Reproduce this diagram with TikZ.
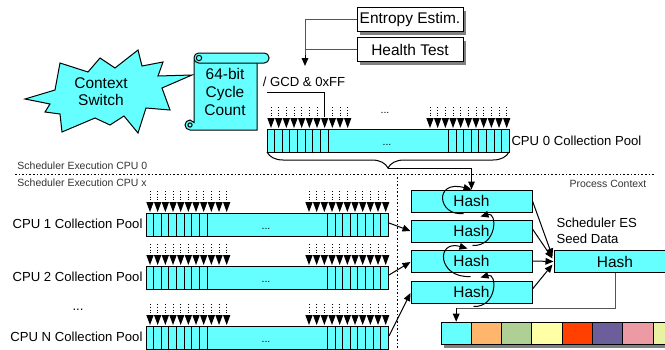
\documentclass[tikz,border=0pt]{standalone}
\usepackage{fontspec}
\setmainfont{Liberation Sans}
\usetikzlibrary{arrows.meta,calc,decorations.pathreplacing,shadows}
\definecolor{cyanF}{HTML}{66FFFF}
\definecolor{lgray}{HTML}{555555}
\definecolor{tgray}{HTML}{333333}
\definecolor{cA}{HTML}{FFB66C}
\definecolor{cB}{HTML}{AFD095}
\definecolor{cC}{HTML}{FFFFA6}
\definecolor{cD}{HTML}{FF4000}
\definecolor{cE}{HTML}{6B5E9B}
\definecolor{cF}{HTML}{EC9BA4}
\definecolor{cG}{HTML}{E8F2A1}
\newcommand\mypool[3]{%
  \node[poolbar, anchor=north west] (#1) at (#2,#3) {};
  \foreach \i in {1,...,8} {\draw[cellline] ({#2+7.63*\i},#3) -- ++(0,23);}
  \foreach \i in {0,...,7} {\draw[cellline] ({#2+181.3+7.63*\i},#3) -- ++(0,23);}
  \foreach \i in {0,...,10} {
    \fill ({#2+4+7.67*\i-3.7},{#3-11}) -- ++(7.4,0) -- ({#2+4+7.67*\i},{#3-1}) -- cycle;
    \draw[dotline] ({#2+4+7.67*\i},{#3-22}) -- ({#2+4+7.67*\i},{#3-11});
    \fill ({#2+163+7.67*\i-3.7},{#3-11}) -- ++(7.4,0) -- ({#2+163+7.67*\i},{#3-1}) -- cycle;
    \draw[dotline] ({#2+163+7.67*\i},{#3-22}) -- ({#2+163+7.67*\i},{#3-11});
  }
  \node[smallf, anchor=base] (#1dots) at ({#2+120},{#3+16}) {...};
}
\begin{document}
\begin{tikzpicture}[x=0.75pt,y=-0.75pt, line width=0.75pt,
  bigf/.style={font=\fontsize{11.6}{13.7}\selectfont},
  midf/.style={font=\fontsize{9.85}{12}\selectfont},
  smallf/.style={font=\fontsize{7.85}{9.4}\selectfont},
  poolbar/.style={draw, fill=cyanF, minimum width=181.5pt, minimum height=17.25pt, inner sep=0pt},
  cellline/.style={line width=0.6pt},
  dotline/.style={line width=0.6pt, dash pattern=on 0.7pt off 1.4pt},
  hashbox/.style={draw, fill=cyanF, bigf, minimum width=90.75pt, minimum height=16.5pt, inner sep=0pt},
  shbox/.style={draw, fill=white, bigf, minimum width=79.5pt, minimum height=18pt, inner sep=0pt,
     drop shadow={shadow xshift=2.25pt, shadow yshift=-2.25pt, fill=black!50, opacity=1}},
  cell/.style={draw, minimum width=22.7pt, minimum height=17pt, inner sep=0pt},
  arr/.style={-{Triangle[length=6pt,width=5pt]}},
  sep/.style={line width=0.6pt, dash pattern=on 1.2pt off 1.5pt}
]
\useasboundingbox (0,0) rectangle (665,350);
\clip (0,0) rectangle (665,350);

% starburst
\draw[fill=cyanF, line join=miter] (25,99) -- (55,90) -- (60,63) -- (88,72) -- (100,58) -- (115,68)
  -- (138,50) -- (142,66) -- (163,62) -- (158,76) -- (192,75) -- (162,88) -- (170,110) -- (146,108)
  -- (138,133) -- (124,116) -- (110,125) -- (95,118) -- (62,132) -- (60,114) -- (45,112) -- (50,104) -- cycle;
\node[bigf, align=center, font=\fontsize{11.6}{12.75}\selectfont] (cs) at (101,92) {Context\\Switch};

% scroll
\draw[fill=cyanF] (194,60) -- (257,60) -- (257,130) -- (190,130)
  arc[start angle=270, end angle=90, radius=3.75pt] -- (194,122.5) -- cycle;
\draw[fill=cyanF, rounded corners=3.5pt] (194,53) rectangle (269,63);
\draw (199,58) circle[radius=2pt];
\draw (190,125) circle[radius=1.6pt];
\node[bigf, align=center] (cc) at (225,92) {64-bit\\Cycle\\Count};

% entropy / health
\node[shbox] (ent) at (410,19.5) {Entropy Estim.};
\node[shbox] (hlt) at (410,49.5) {Health Test};
\coordinate (gtip) at (305,66);
\draw[lgray] (ent.west) -| (305,60);
\draw[lgray] (hlt.west) -- (hlt.west -| gtip);
\draw[arr] (305,55) -- (gtip);

\node[midf] (gcd) at (304,82) {/ GCD \& 0xFF};
\coordinate (gcdL) at (267,92);
\coordinate (gcdA) at (324.7,117);
\draw (gcdL) -| (gcdA);

% CPU 0 pool
\mypool{p0}{267}{129}
\node[smallf, anchor=base] (p0top) at (385,113) {...};
\node[midf, anchor=west, inner sep=0pt] (p0lab) at (511,141) {CPU 0 Collection Pool};
\draw[decorate, decoration={brace, mirror, amplitude=12pt}] (267,152) -- (509,152);
\coordinate (bt) at (388,168);

% separators
\node[smallf, text=tgray, anchor=west, inner sep=0pt] (s0) at (17,165.5) {Scheduler Execution CPU 0};
\draw[sep] (15,174) -- (655,174);
\node[smallf, text=tgray, anchor=west, inner sep=0pt] (sx) at (17,182.5) {Scheduler Execution CPU x};
\draw[sep] (397,177) -- (397,350);
\node[smallf, text=tgray] (pc) at (608,184) {Process Context};

% CPU x pools
\mypool{p1}{146}{213}
\mypool{p2}{146}{266}
\mypool{p3}{146}{326}
\node[midf, anchor=east, inner sep=0pt] (l1) at (143,224) {CPU 1 Collection Pool};
\node[midf, anchor=east, inner sep=0pt] (l2) at (143,277) {CPU 2 Collection Pool};
\node[midf] (ldots) at (78,310) {...};
\node[midf, anchor=east, inner sep=0pt] (l3) at (143,337) {CPU N Collection Pool};

% hashes
\node[hashbox] (h1) at (471.5,201) {Hash};
\node[hashbox] (h2) at (471.5,231) {Hash};
\node[hashbox] (h3) at (471.5,261) {Hash};
\node[hashbox] (h4) at (471.5,292) {Hash};
\node[hashbox, minimum width=91.5pt] (bh) at (615,261.5) {Hash};
\node[midf, anchor=west, align=left, inner sep=0pt] (sed) at (556,231) {Scheduler ES\\Seed Data};

\draw[arr] (bt) -| (h1.north);
\draw[arr] ($(h1.south)+(-8,1)$) .. controls ($(h1.south)+(-34,4)$) and ($(h1.north)+(-38,-10)$) .. (h1.north);
\draw[arr] ($(h2.south)+(1,3)$) .. controls ($(h2.south)+(26,4)$) and ($(h2.north)+(26,-8)$) .. ($(h2.north)+(9,-3)$);
\draw[arr] ($(h3.south)+(-1,4)$) .. controls ($(h3.south)+(-34,6)$) and ($(h3.north)+(-36,-10)$) .. ($(h3.north)+(-4,-1)$);
\draw[arr] ($(h4.south)+(2,3)$) .. controls ($(h4.south)+(26,4)$) and ($(h4.north)+(26,-8)$) .. ($(h4.north)+(9,-3)$);

\draw[arr] ($(p1.east)+(0,-2)$) -- (h2.west);
\draw[arr] ($(p2.east)+(0,-3)$) -- ($(h3.west)+(0,1)$);
\draw[arr] ($(p3.east)+(0,-2)$) -- ($(h4.west)+(0,1)$);

\draw[arr] (h1.east) -- ($(bh.west)+(-1,-5)$);
\draw[arr] ($(h2.east)+(0,-2)$) -- ($(bh.west)+(-1,-3)$);
\draw[arr] (h3.east) -- (bh.west);
\draw[arr] ($(h4.east)+(0,-3)$) -- ($(bh.west)+(-1,3)$);

% colour bar
\fill[black!50] (444,325) rectangle (690,348);
\node[cell, fill=cyanF] (c1) at (456.2,333.5) {};
\node[cell, fill=cA] (c2) at (486.5,333.5) {};
\node[cell, fill=cB] (c3) at (516.8,333.5) {};
\node[cell, fill=cC] (c4) at (547.1,333.5) {};
\node[cell, fill=cD] (c5) at (577.4,333.5) {};
\node[cell, fill=cE] (c6) at (607.7,333.5) {};
\node[cell, fill=cF] (c7) at (638.0,333.5) {};
\node[cell, fill=cG] (c8) at (668.3,333.5) {};
\draw[lgray] (bh.south) |- (456.2,308);
\draw[arr] (456.2,308) -- (c1.north);
\end{tikzpicture}
\end{document}
